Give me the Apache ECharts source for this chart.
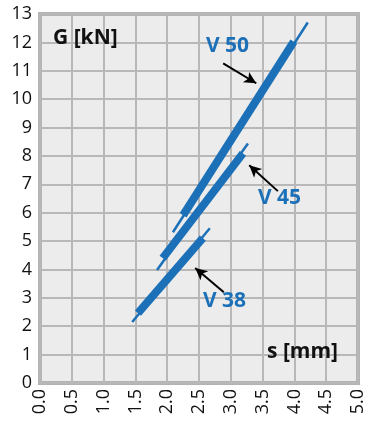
<!DOCTYPE html>
<html><head><meta charset="utf-8">
<script src="https://cdn.jsdelivr.net/npm/echarts@6/dist/echarts.min.js"></script>
<style>html,body{margin:0;padding:0;background:#fff}#c{width:368px;height:423px}</style>
</head><body><div id="c"></div>
<script>
// x ticks (s [mm]) and y ticks (G [kN])
const xTicks = ['0.0','0.5','1.0','1.5','2.0','2.5','3.0','3.5','4.0','4.5','5.0'];
const yTicks = [0,1,2,3,4,5,6,7,8,9,10,11,12,13];
// [s, G] endpoints: thin guide lines and thick working ranges
const v50Thin  = [[2.09, 5.31], [4.21, 12.70]];
const v50Thick = [[2.25, 5.91], [3.99, 12.03]];
const v45Thin  = [[1.84, 3.98], [3.27, 8.44]];
const v45Thick = [[1.93, 4.40], [3.19, 8.09]];
const v38Thin  = [[1.45, 2.15], [2.67, 5.45]];
const v38Thick = [[1.54, 2.46], [2.56, 5.10]];
// arrows (data coords) start -> tip
const arrowV50 = [[2.88, 11.26], [3.40, 10.56]];
const arrowV45 = [[3.74, 6.76], [3.29, 7.67]];
const arrowV38 = [[2.89, 3.20], [2.44, 4.05]];

const BLUE = '#1c70b8';
const FONT = '"Open Sans", "Liberation Sans", sans-serif';

function seg(data, w) {
  return {type:'line', data:data, symbol:'none', silent:true,
    lineStyle:{color:BLUE, width:w, cap:'butt'}, z: w>3?3:2};
}
function arrow(a) {
  return {type:'line', data:[], symbol:'none', silent:true,
    markLine:{silent:true, symbol:['none','arrow'], symbolSize:[9,12],
      label:{show:false}, lineStyle:{color:'#000', width:2, type:'solid'},
      data:[[{coord:a[0]},{coord:a[1]}]]}};
}

const chart = echarts.init(document.getElementById('c'));
chart.setOption({
  animation:false,
  grid:{left:40, right:10, top:14, bottom:40, show:true, backgroundColor:'#ececec',
        borderColor:'#b3b3b3', borderWidth:4, containLabel:false},
  xAxis:{type:'value', min:0, max:5, interval:0.5,
    axisLine:{show:false}, axisTick:{show:false},
    splitLine:{show:true, lineStyle:{color:'#b8b8b8', width:2}},
    axisLabel:{rotate:90, margin:6, fontFamily:FONT, fontSize:18, color:'#111',
      formatter:(v)=>xTicks[Math.round(v*2)]}},
  yAxis:{type:'value', min:0, max:13, interval:1,
    axisLine:{show:false}, axisTick:{show:false},
    splitLine:{show:true, lineStyle:{color:'#b8b8b8', width:2}},
    axisLabel:{margin:8, fontFamily:FONT, fontSize:18, color:'#111',
      formatter:(v)=>String(yTicks[v])}},
  series:[
    seg(v50Thin,2.5), seg(v50Thick,8),
    seg(v45Thin,2.5), seg(v45Thick,8),
    seg(v38Thin,2.5), seg(v38Thick,8),
    arrow(arrowV50), arrow(arrowV45), arrow(arrowV38)
  ],
  graphic:[
    {type:'text', z:100, left:53, top:28, style:{text:'G [kN]', font:'bold 21px '+FONT, fill:'#111'}},
    {type:'text', z:100, left:206, top:36, style:{text:'V 50', font:'bold 21px '+FONT, fill:BLUE}},
    {type:'text', z:100, left:258, top:188, style:{text:'V 45', font:'bold 21px '+FONT, fill:BLUE}},
    {type:'text', z:100, left:203, top:291, style:{text:'V 38', font:'bold 21px '+FONT, fill:BLUE}},
    {type:'text', z:100, left:267, top:342, style:{text:'s [mm]', font:'bold 21px '+FONT, fill:'#111'}}
  ]
});
</script></body></html>
